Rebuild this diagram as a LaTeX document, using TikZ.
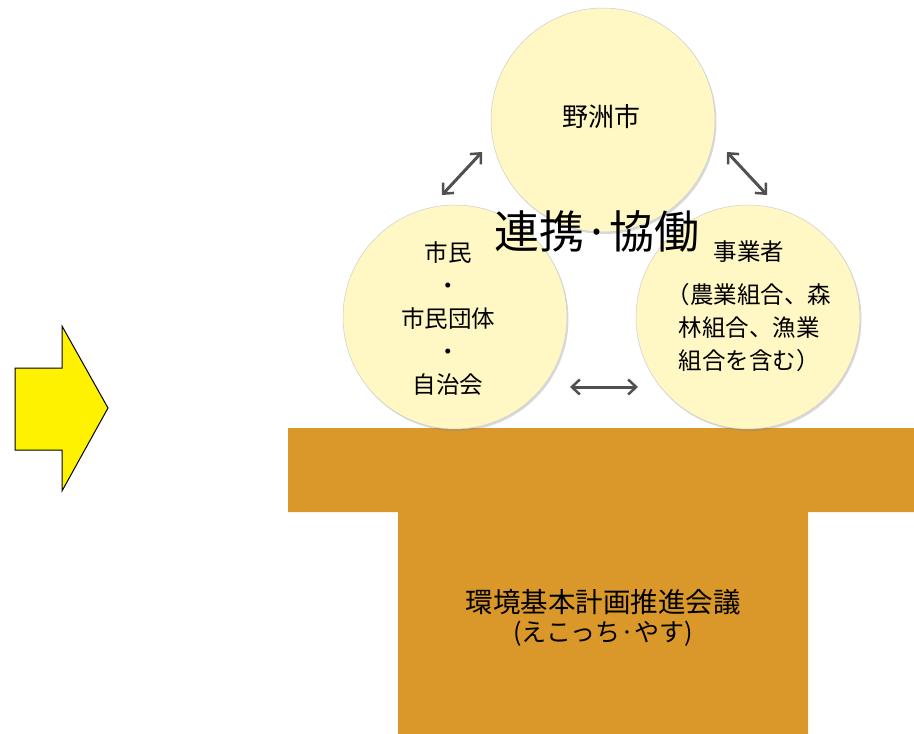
\documentclass[tikz,border=0pt]{standalone}
\usepackage{fontspec}
\setmainfont{Noto Sans CJK JP}
\usepackage{xcolor}
\usepackage{tikz}
\usetikzlibrary{arrows.meta, positioning, calc, shadows}

\definecolor{circfill}{RGB}{255,247,196}
\definecolor{baseorange}{RGB}{218,152,42}
\definecolor{linkgray}{RGB}{80,80,80}

\begin{document}
\begin{tikzpicture}[
    x=1pt, y=-1pt,
    circ/.style={circle, draw=gray!40, line width=0.5pt, fill=circfill, minimum size=224pt, inner sep=0pt,
                 drop shadow={shadow xshift=1.5pt, shadow yshift=-2pt, opacity=0.3}},
    label/.style={align=center, font=\fontsize{23.5}{33}\selectfont, inner sep=0pt},
    link/.style={{Straight Barb[length=8pt,width=15pt,line width=2.5pt]}-{Straight Barb[length=8pt,width=15pt,line width=2.5pt]}, line width=3pt, draw=linkgray},
    pointer/.style={draw=black, line width=1pt, fill=yellow, line join=miter}
]
\useasboundingbox (0,0) rectangle (914,734);

% Yellow arrow on the left
\draw[pointer] (15,368) -- (62,368) -- (62,326) -- (108,408) -- (62,491) -- (62,450) -- (15,450) -- cycle;

% Base - the council (T shape)
\fill[baseorange] (288,428) -- (914,428) -- (914,512) -- (808,512) -- (808,734)
    -- (398,734) -- (398,512) -- (288,512) -- cycle;
\node[label, font=\fontsize{27.5}{30}\selectfont] (council) at (603,618)
    {環境基本計画推進会議\\[-1pt]{\fontsize{25}{28}\selectfont (えこっち·やす)}};

% The three partners
\node[circ] (city) at (603,120) {};
\node[circ] (citizen) at (455,317) {};
\node[circ] (business) at (748,317) {};

\node[label, font=\fontsize{26}{30}\selectfont] (cityname) at (601,117) {野洲市};
\node[label] (citizentext) at (448,319) {市民\\・\\市民団体\\・\\自治会};
\node[label] (businesstext) at (749,306) {事業者\\[10pt]（農業組合、森\\林組合、漁業\\組合を含む）};

% Title in the middle
\node[label, font=\fontsize{45}{48}\selectfont] (title) at (597,231) {連携·協働};

% Arrows between the partners
\coordinate (lnk1a) at (442,195);
\coordinate (lnk1b) at (482,152);
\coordinate (lnk2a) at (727,152);
\coordinate (lnk2b) at (767,195);
\coordinate (lnk3a) at (570,387);
\coordinate (lnk3b) at (638,387);
\draw[link] (lnk1a) -- (lnk1b);
\draw[link] (lnk2a) -- (lnk2b);
\draw[link] (lnk3a) -- (lnk3b);
\end{tikzpicture}
\end{document}
